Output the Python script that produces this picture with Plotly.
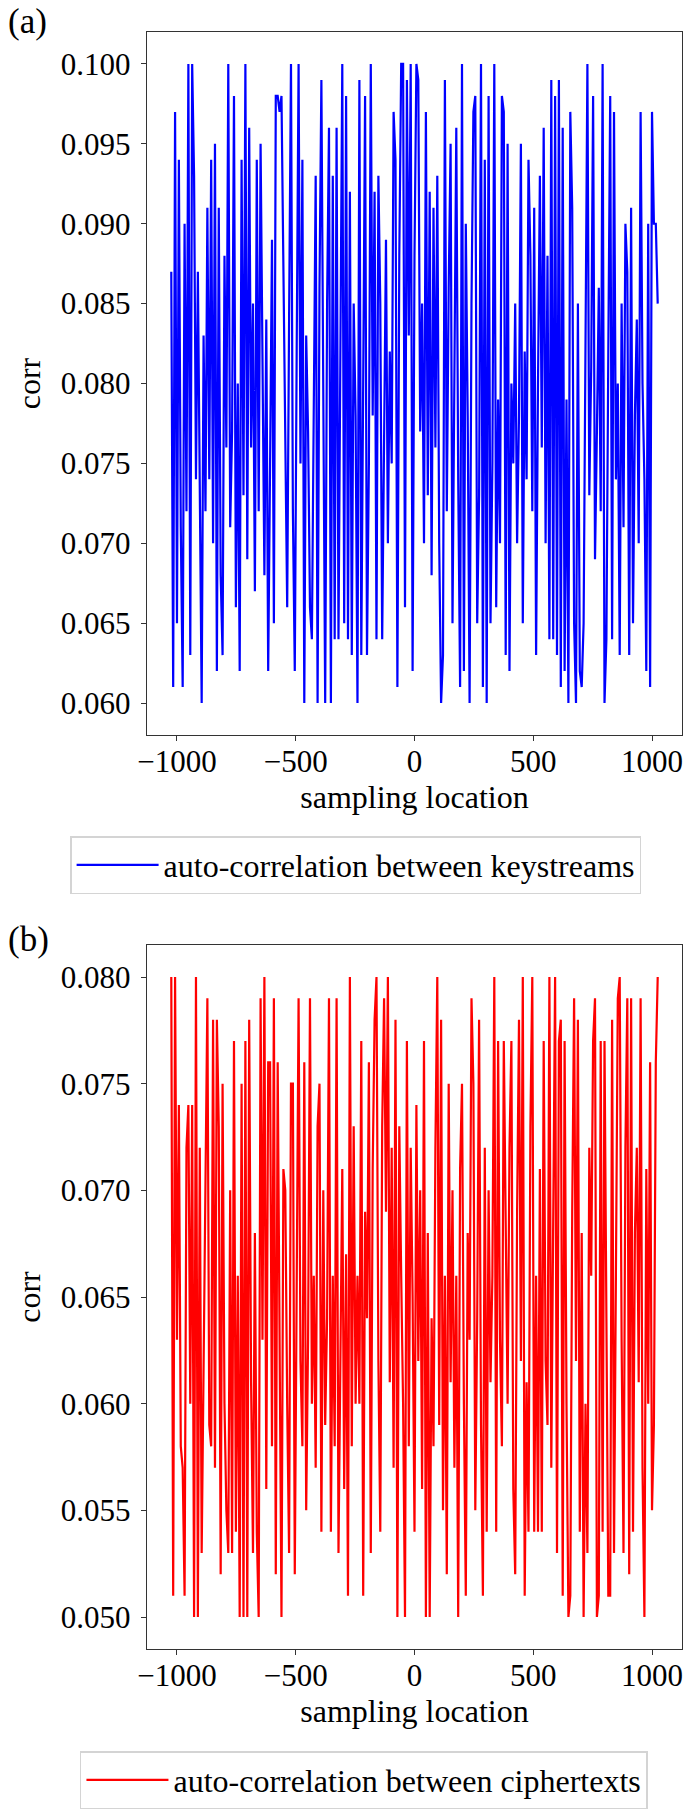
import plotly.graph_objects as go

# sampling locations (x axis)
sampling_location = list(range(-1024, 1025, 8))

# (a) auto-correlation between keystreams
keystream_corr = [
    0.087, 0.061, 0.097, 0.065, 0.094, 0.071, 0.061, 0.090, 0.072, 0.100,
    0.063, 0.100, 0.093, 0.074, 0.087, 0.071, 0.060, 0.083, 0.072, 0.091,
    0.074, 0.094, 0.070, 0.095, 0.062, 0.091, 0.068, 0.063, 0.088, 0.076,
    0.100, 0.071, 0.077, 0.098, 0.066, 0.080, 0.062, 0.094, 0.073, 0.100,
    0.069, 0.096, 0.076, 0.085, 0.067, 0.094, 0.072, 0.095, 0.080, 0.068,
    0.084, 0.062, 0.075, 0.089, 0.065, 0.098, 0.098, 0.097, 0.098, 0.088,
    0.079, 0.066, 0.084, 0.100, 0.072, 0.062, 0.082, 0.100, 0.075, 0.094,
    0.060, 0.083, 0.077, 0.066, 0.064, 0.079, 0.093, 0.060, 0.086, 0.099,
    0.082, 0.060, 0.085, 0.096, 0.060, 0.093, 0.064, 0.096, 0.064, 0.080,
    0.100, 0.065, 0.098, 0.064, 0.092, 0.063, 0.085, 0.078, 0.060, 0.099,
    0.063, 0.080, 0.098, 0.063, 0.075, 0.100, 0.078, 0.092, 0.064, 0.093,
    0.085, 0.064, 0.079, 0.089, 0.070, 0.082, 0.075, 0.097, 0.094, 0.061,
    0.088, 0.100, 0.100, 0.066, 0.099, 0.083, 0.100, 0.062, 0.088, 0.100,
    0.099, 0.077, 0.085, 0.070, 0.097, 0.073, 0.092, 0.068, 0.091, 0.076,
    0.093, 0.070, 0.060, 0.063, 0.099, 0.072, 0.086, 0.095, 0.065, 0.080,
    0.096, 0.074, 0.061, 0.100, 0.062, 0.090, 0.078, 0.060, 0.085, 0.097,
    0.098, 0.065, 0.073, 0.100, 0.061, 0.094, 0.060, 0.098, 0.065, 0.075,
    0.100, 0.066, 0.079, 0.070, 0.098, 0.097, 0.063, 0.095, 0.062, 0.080,
    0.075, 0.085, 0.070, 0.078, 0.095, 0.065, 0.082, 0.074, 0.094, 0.088,
    0.072, 0.091, 0.063, 0.080, 0.093, 0.076, 0.096, 0.070, 0.088, 0.064,
    0.099, 0.064, 0.098, 0.063, 0.099, 0.061, 0.096, 0.062, 0.079, 0.060,
    0.097, 0.091, 0.065, 0.060, 0.085, 0.062, 0.061, 0.065, 0.083, 0.100,
    0.073, 0.081, 0.098, 0.069, 0.077, 0.086, 0.072, 0.100, 0.060, 0.064,
    0.082, 0.098, 0.064, 0.097, 0.074, 0.080, 0.063, 0.085, 0.071, 0.090,
    0.087, 0.063, 0.091, 0.065, 0.078, 0.084, 0.070, 0.097, 0.080, 0.074,
    0.062, 0.090, 0.061, 0.097, 0.090, 0.090, 0.085,
]

# (b) auto-correlation between ciphertexts
ciphertext_corr = [
    0.080, 0.051, 0.080, 0.063, 0.074, 0.058, 0.057, 0.051, 0.072, 0.074,
    0.060, 0.074, 0.050, 0.080, 0.050, 0.072, 0.053, 0.061, 0.068, 0.079,
    0.059, 0.058, 0.078, 0.057, 0.078, 0.073, 0.052, 0.075, 0.060, 0.055,
    0.053, 0.070, 0.053, 0.077, 0.054, 0.066, 0.050, 0.075, 0.050, 0.077,
    0.050, 0.078, 0.061, 0.053, 0.068, 0.054, 0.050, 0.079, 0.063, 0.080,
    0.056, 0.076, 0.076, 0.058, 0.079, 0.052, 0.076, 0.065, 0.050, 0.071,
    0.070, 0.060, 0.053, 0.075, 0.075, 0.052, 0.068, 0.079, 0.062, 0.058,
    0.076, 0.055, 0.063, 0.079, 0.060, 0.066, 0.057, 0.073, 0.075, 0.054,
    0.070, 0.059, 0.064, 0.079, 0.054, 0.066, 0.058, 0.079, 0.053, 0.062,
    0.071, 0.056, 0.067, 0.051, 0.080, 0.058, 0.073, 0.060, 0.066, 0.060,
    0.077, 0.051, 0.069, 0.064, 0.076, 0.053, 0.071, 0.078, 0.080, 0.062,
    0.054, 0.073, 0.079, 0.069, 0.080, 0.061, 0.072, 0.057, 0.078, 0.050,
    0.073, 0.066, 0.060, 0.050, 0.077, 0.058, 0.072, 0.065, 0.054, 0.074,
    0.062, 0.070, 0.056, 0.077, 0.050, 0.068, 0.050, 0.064, 0.058, 0.072,
    0.080, 0.059, 0.078, 0.055, 0.066, 0.052, 0.075, 0.061, 0.070, 0.057,
    0.066, 0.050, 0.071, 0.075, 0.060, 0.051, 0.068, 0.063, 0.079, 0.075,
    0.055, 0.064, 0.078, 0.059, 0.051, 0.072, 0.054, 0.070, 0.061, 0.066,
    0.080, 0.054, 0.077, 0.063, 0.058, 0.077, 0.068, 0.060, 0.072, 0.077,
    0.056, 0.052, 0.069, 0.078, 0.062, 0.080, 0.051, 0.061, 0.054, 0.073,
    0.080, 0.054, 0.066, 0.054, 0.071, 0.054, 0.077, 0.062, 0.059, 0.080,
    0.057, 0.067, 0.080, 0.053, 0.077, 0.078, 0.051, 0.077, 0.060, 0.050,
    0.051, 0.069, 0.079, 0.062, 0.078, 0.054, 0.068, 0.050, 0.060, 0.053,
    0.072, 0.066, 0.077, 0.079, 0.050, 0.051, 0.077, 0.054, 0.077, 0.064,
    0.051, 0.051, 0.078, 0.053, 0.066, 0.079, 0.080, 0.063, 0.053, 0.072,
    0.079, 0.052, 0.079, 0.054, 0.068, 0.072, 0.061, 0.079, 0.057, 0.050,
    0.071, 0.060, 0.076, 0.055, 0.059, 0.076, 0.080,
]

x_ticks = [-1000, -500, 0, 500, 1000]
names = ["auto-correlation between keystreams", "auto-correlation between ciphertexts"]
panel_labels = ["(a)", "(b)"]

FONT = "Liberation Serif, Times New Roman, serif"
W, H = 685, 1811

fig = go.Figure()
fig.add_trace(go.Scatter(x=sampling_location, y=keystream_corr, mode="lines",
                         line=dict(color="#0000ff", width=2.2), name=names[0],
                         xaxis="x", yaxis="y", legend="legend", showlegend=True))
fig.add_trace(go.Scatter(x=sampling_location, y=ciphertext_corr, mode="lines",
                         line=dict(color="#ff0000", width=2.2), name=names[1],
                         xaxis="x2", yaxis="y2", legend="legend2", showlegend=True))

common = dict(showline=True, mirror=True, linecolor="#333333", linewidth=1.3,
              ticks="outside", ticklen=5, tickwidth=1.2, tickcolor="#333333",
              showgrid=False, zeroline=False,
              tickfont=dict(family=FONT, size=31, color="black"))

xdom = [140 / W, 683 / W]
ydom_a = [1 - 735 / H, 1 - 32 / H]
ydom_b = [1 - 1649 / H, 1 - 945 / H]

title_font = dict(family=FONT, size=32, color="black")
xaxis_common = dict(common, range=[-1126.4, 1126.4], tickmode="array", tickvals=x_ticks,
                    ticklabelstandoff=-6,
                    title=dict(text="sampling location", font=title_font, standoff=4))
yaxis_common = dict(common, dtick=0.005, tick0=0, tickformat=".3f", ticklabelstandoff=4,
                    title=dict(text="corr", font=title_font, standoff=10))

legend_common = dict(xanchor="left", yanchor="top", bordercolor="#d4d4d4", borderwidth=1.5,
                     bgcolor="white", font=dict(family=FONT, size=32, color="black"),
                     itemwidth=82)

fig.update_layout(
    width=W, height=H, autosize=False,
    margin=dict(l=0, r=0, t=0, b=0),
    paper_bgcolor="white", plot_bgcolor="white",
    font=dict(family=FONT, size=31, color="black"),
    showlegend=True,
    xaxis=dict(xaxis_common, domain=xdom, anchor="y"),
    yaxis=dict(yaxis_common, domain=ydom_a, anchor="x", range=[0.058, 0.102]),
    xaxis2=dict(xaxis_common, domain=xdom, anchor="y2"),
    yaxis2=dict(yaxis_common, domain=ydom_b, anchor="x2", range=[0.0485, 0.0815]),
    legend=dict(legend_common, x=62 / W, y=1 - 836 / H),
    legend2=dict(legend_common, x=72 / W, y=1 - 1751 / H),
    annotations=[
        dict(text=panel_labels[0], x=-3 / W, y=1, xref="paper", yref="paper",
             xanchor="left", yanchor="top", showarrow=False,
             font=dict(family=FONT, size=35, color="black")),
        dict(text=panel_labels[1], x=-3 / W, y=1 - 918 / H, xref="paper", yref="paper",
             xanchor="left", yanchor="top", showarrow=False,
             font=dict(family=FONT, size=35, color="black")),
    ],
)

fig.write_html("out.html", config={"displayModeBar": False},
               post_script="document.body.style.margin='0px';document.body.style.padding='0px';")
